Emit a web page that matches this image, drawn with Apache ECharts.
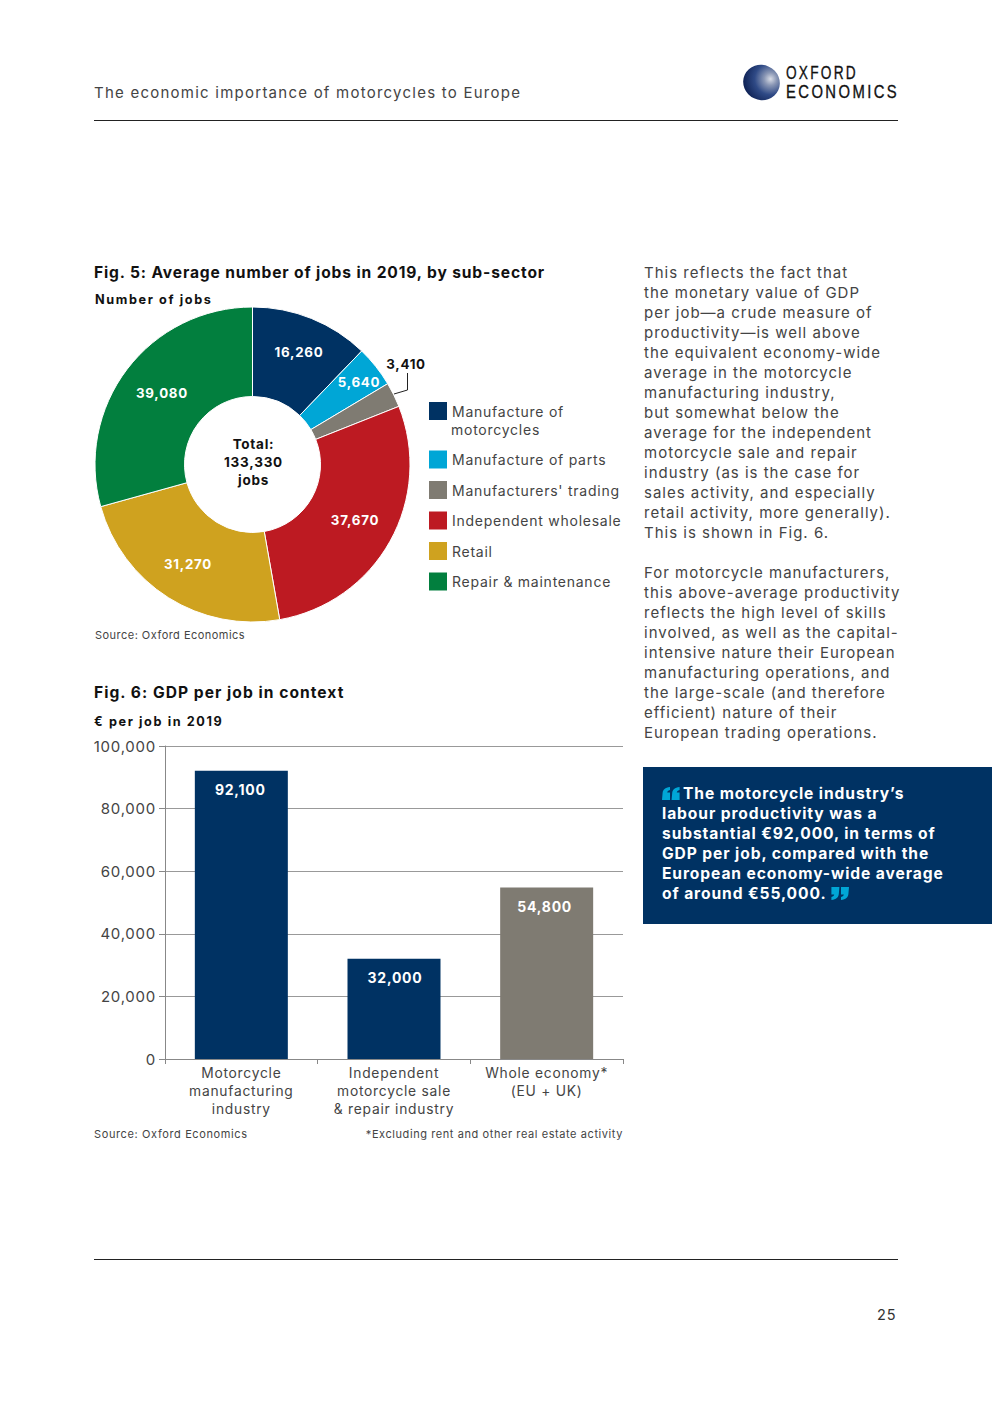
<!DOCTYPE html>
<html><head><meta charset="utf-8">
<style>
html,body{margin:0;padding:0;background:#fff;width:992px;height:1403px;overflow:hidden}
#chart{position:absolute;left:0;top:0;width:992px;height:1403px;letter-spacing:.75px}
.t{position:absolute;font-family:Inter,sans-serif;white-space:pre;z-index:2}
.rule{position:absolute;left:94px;width:804px;height:1px;background:#222}
.h{font-weight:700;font-size:15.6px;color:#111;letter-spacing:.86px;line-height:20px}
.sub{font-weight:700;font-size:12.7px;color:#111;letter-spacing:1.6px;line-height:16px}
.src{font-size:11px;color:#444;letter-spacing:.47px;line-height:14px}
.body{font-size:15px;color:#444;letter-spacing:1.0px;line-height:20px}
.logo{font-family:'Liberation Sans',sans-serif;font-size:19px;line-height:20px;color:#111;letter-spacing:3.1px;transform-origin:0 50%;-webkit-text-stroke:.35px #111}
#box{position:absolute;left:643px;top:767px;width:349px;height:157px;background:#003263}
#logo{position:absolute;left:743px;top:65px;width:37px;height:35px;border-radius:50%;transform:rotate(25deg);background:radial-gradient(circle at 68% 30%,#d8dce6 0,#8a97b5 18%,#2f4a86 45%,#12265a 75%,#0b1a44 100%)}
</style></head><body>
<div id="chart"></div>
<div class="rule" style="top:120px"></div>
<div class="rule" style="top:1259px"></div>
<div id="logo"></div>
<div class="t logo" style="left:786px;top:63px;transform:scaleX(.72)">OXFORD</div>
<div class="t logo" style="left:786px;top:82px;transform:scaleX(.78)">ECONOMICS</div>
<div class="t" style="left:94px;top:83px;font-size:15px;letter-spacing:1.24px;line-height:20px;color:#444">The economic importance of motorcycles to Europe</div>
<div class="t h" style="left:94px;top:263px">Fig. 5: Average number of jobs in 2019, by sub-sector</div>
<div class="t sub" style="left:95px;top:292px">Number of jobs</div>
<div class="t src" style="left:95px;top:628px">Source: Oxford Economics</div>
<div class="t h" style="left:94px;top:683px;letter-spacing:1.03px">Fig. 6: GDP per job in context</div>
<div class="t sub" style="left:94px;top:714px">€ per job in 2019</div>
<div class="t src" style="left:94px;top:1127px;letter-spacing:.62px">Source: Oxford Economics</div>
<div class="t src" style="right:369px;top:1127px;letter-spacing:.58px">*Excluding rent and other real estate activity</div>
<div class="t body" id="copy" style="left:644px;top:263px"></div>
<div id="box"></div>
<div class="t" id="quote" style="left:662px;top:784px;font-weight:700;font-size:15.6px;letter-spacing:.9px;line-height:20px;color:#fff"></div>
<div class="t" style="left:877px;top:1305px;font-size:14.5px;letter-spacing:.8px;line-height:20px;color:#333">25</div>
<script src="https://cdn.jsdelivr.net/npm/echarts@6/dist/echarts.min.js"></script>
<script>
// Fig. 5 data
const sectorNames = ['Manufacture of motorcycles','Manufacture of parts',"Manufacturers' trading",'Independent wholesale','Retail','Repair & maintenance'];
const sectorJobs = [16260,5640,3410,37670,31270,39080];
const sectorColors = ['#003263','#00a6d6','#7f7b72','#bd1a22','#cfa21f','#027f3e'];
const totalLines = ['Total:','133,330','jobs'];
// Fig. 6 data
const gdpCategories = ['Motorcycle\nmanufacturing\nindustry','Independent\nmotorcycle sale\n& repair industry','Whole economy*\n(EU + UK)'];
const gdpValues = [92100,32000,54800];
const gdpColors = ['#003263','#003263','#7f7b72'];
// Page copy
const copyLines = ['This reflects the fact that','the monetary value of GDP','per job—a crude measure of','productivity—is well above','the equivalent economy-wide','average in the motorcycle','manufacturing industry,','but somewhat below the','average for the independent','motorcycle sale and repair','industry (as is the case for','sales activity, and especially','retail activity, more generally).','This is shown in Fig. 6.','','For motorcycle manufacturers,','this above-average productivity','reflects the high level of skills','involved, as well as the capital-','intensive nature their European','manufacturing operations, and','the large-scale (and therefore','efficient) nature of their','European trading operations.'];
const quoteLines = ['The motorcycle industry’s','labour productivity was a','substantial €92,000, in terms of','GDP per job, compared with the','European economy-wide average','of around €55,000. '];

document.getElementById('copy').textContent = copyLines.join('\n');
const mark = f => `<svg width="18" height="13" viewBox="0 0 18 13" style="vertical-align:-1px"><g fill="#00a6d6" transform="${f}"><path d="M3 13H0L0.6 6C1 2.5 3 .8 8 0V3C6 3.5 5.4 4.4 5.2 5.5H8V13Z"/><path d="M13 13H9.6L10.2 6C10.6 2.5 12.6 .8 17.6 0V3C15.6 3.5 15 4.4 14.8 5.5H17.6V13Z"/></g></svg>`;
const q = quoteLines.slice();
q[0] = mark('') + '<span style="margin-left:3px"></span>' + q[0];
q[5] = q[5] + mark('rotate(180 9 6.5)');
document.getElementById('quote').innerHTML = q.join('\n');

const fontFamily = 'Inter, sans-serif';
const labelAnchors = [[299,352],[359,382],[406,364],[355,520],[188,564],[162,393]];
const labelInk = ['#fff','#fff','#111','#fff','#fff','#fff'];
const barLabelNudge = [-1,1,-2];
const fmt = v => Number(v).toLocaleString('en-US');

const chart = echarts.init(document.getElementById('chart'), null, {renderer:'svg', width:992, height:1403});
const legendText = {color:'#444', fontSize:14, fontFamily};
chart.setOption({
  animation:false,
  textStyle:{fontFamily},
  legend:[
    {orient:'vertical',left:429,top:402,itemWidth:18,itemHeight:18,icon:'rect',itemGap:12.5,selectedMode:false,
     textStyle:legendText,data:[sectorNames[0]],formatter:()=>'Manufacture of',padding:0,itemStyle:{borderWidth:0}},
    {orient:'vertical',left:429,top:450.5,itemWidth:18,itemHeight:18,icon:'rect',itemGap:12.5,selectedMode:false,
     textStyle:legendText,data:sectorNames.slice(1),padding:0,itemStyle:{borderWidth:0}}
  ],
  grid:{left:165,top:746,width:458,height:313,containLabel:false},
  xAxis:{type:'category',data:gdpCategories,
    axisLine:{show:true,lineStyle:{color:'#888',width:1}},
    axisTick:{show:true,length:5,alignWithLabel:false,lineStyle:{color:'#888'}},
    axisLabel:{interval:0,color:'#444',fontSize:13.8,lineHeight:18,margin:5,fontFamily}},
  yAxis:{type:'value',min:0,max:100000,interval:20000,
    axisLine:{show:true,lineStyle:{color:'#888',width:1}},
    axisTick:{show:true,length:6,lineStyle:{color:'#888'}},
    splitLine:{show:true,lineStyle:{color:'#999',width:1}},
    axisLabel:{color:'#444',fontSize:15,margin:9,formatter:fmt,fontFamily}},
  graphic:[
    {type:'text',x:451,y:422,style:{text:'motorcycles',fill:'#444',font:'14px '+fontFamily}},
    {type:'text',x:253.5,y:462,style:{text:totalLines.join('\n'),fill:'#111',font:'700 13.5px '+fontFamily,lineHeight:18,align:'center',verticalAlign:'middle'},z:10},
    {type:'polyline',shape:{points:[[394,394],[407.5,390],[407.5,373]]},style:{stroke:'#222',fill:null,lineWidth:1},z:10}
  ],
  series:[
    {type:'pie',center:[252.5,464.5],radius:[68,157.5],startAngle:90,clockwise:true,
     data:sectorNames.map((n,i)=>({name:n,value:sectorJobs[i],
       itemStyle:{color:sectorColors[i]},
       label:{color:labelInk[i]}})),
     itemStyle:{borderColor:'#fff',borderWidth:1},
     label:{show:true,position:'inside',formatter:p=>fmt(p.value),fontSize:13.3,fontWeight:700,fontFamily},
     labelLine:{show:false},
     emphasis:{disabled:true},
     labelLayout:p=>({x:labelAnchors[p.dataIndex][0],y:labelAnchors[p.dataIndex][1],align:'center',verticalAlign:'middle'})
    },
    {type:'bar',barWidth:93,
     data:gdpValues.map((v,i)=>({value:v,itemStyle:{color:gdpColors[i]},label:{offset:[barLabelNudge[i],0]}})),
     label:{show:true,position:'insideTop',distance:12,color:'#fff',fontSize:14,fontWeight:700,formatter:p=>fmt(p.value),fontFamily},
     emphasis:{disabled:true}
    }
  ]
});
</script>
</body></html>
